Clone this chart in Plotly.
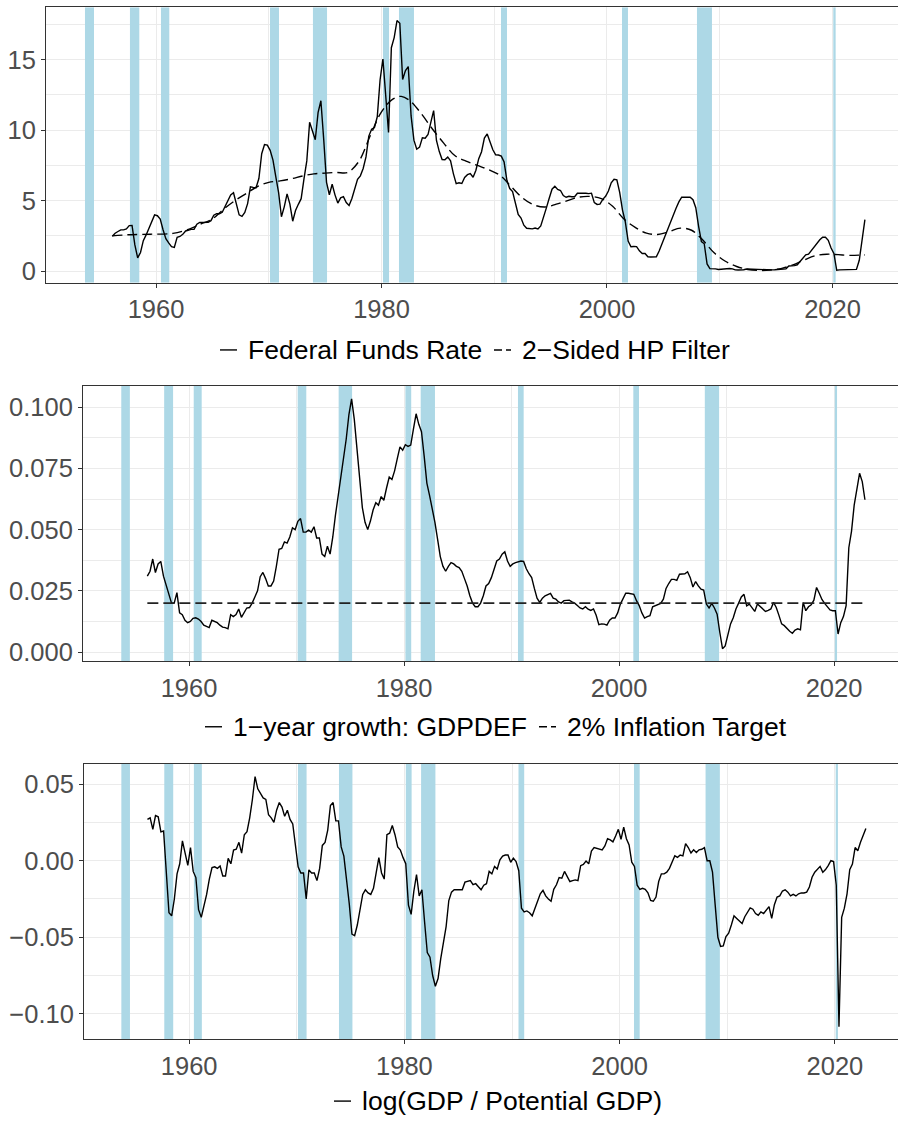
import plotly.graph_objects as go

# ---------------------------------------------------------------------------
# Quarterly series, 1956Q1 - 2022Q4 (one row per year, four quarters per row)
# ---------------------------------------------------------------------------
FIRST_YEAR = 1956
LAST_YEAR = 2022

fed_funds = [
    2.48, 2.69, 2.81, 2.93,    # 1956
    2.93, 3.00, 3.23, 3.24,    # 1957
    1.86, 0.94, 1.32, 2.16,    # 1958
    2.57, 3.08, 3.58, 3.99,    # 1959
    3.93, 3.70, 2.94, 2.30,    # 1960
    2.00, 1.73, 1.68, 2.40,    # 1961
    2.46, 2.61, 2.85, 2.92,    # 1962
    2.96, 2.96, 3.33, 3.45,    # 1963
    3.46, 3.49, 3.46, 3.58,    # 1964
    3.97, 4.08, 4.07, 4.17,    # 1965
    4.56, 4.91, 5.41, 5.56,    # 1966
    4.82, 3.99, 3.89, 4.17,    # 1967
    4.79, 5.98, 5.94, 5.92,    # 1968
    6.57, 8.33, 8.98, 8.94,    # 1969
    8.57, 7.88, 6.70, 5.57,    # 1970
    3.86, 4.56, 5.48, 4.75,    # 1971
    3.54, 4.30, 4.74, 5.14,    # 1972
    6.54, 7.82, 10.56, 10.00,  # 1973
    9.32, 11.25, 12.09, 9.35,  # 1974
    6.30, 5.42, 6.16, 5.41,    # 1975
    4.83, 5.20, 5.28, 4.87,    # 1976
    4.66, 5.16, 5.82, 6.51,    # 1977
    6.76, 7.28, 8.10, 9.58,    # 1978
    10.07, 10.18, 10.95, 13.58,  # 1979
    15.05, 12.69, 9.84, 15.85,   # 1980
    16.57, 17.78, 17.58, 13.59,  # 1981
    14.23, 14.51, 11.01, 9.29,   # 1982
    8.65, 8.80, 9.46, 9.43,    # 1983
    9.69, 10.56, 11.39, 9.27,  # 1984
    8.48, 7.92, 7.90, 8.10,    # 1985
    7.83, 6.92, 6.21, 6.27,    # 1986
    6.22, 6.65, 6.84, 6.92,    # 1987
    6.66, 7.16, 7.98, 8.47,    # 1988
    9.44, 9.73, 9.08, 8.61,    # 1989
    8.25, 8.24, 8.16, 7.74,    # 1990
    6.43, 5.86, 5.64, 4.82,    # 1991
    4.02, 3.77, 3.26, 3.04,    # 1992
    3.04, 3.00, 3.06, 2.99,    # 1993
    3.21, 3.94, 4.49, 5.17,    # 1994
    5.81, 6.02, 5.80, 5.72,    # 1995
    5.36, 5.24, 5.31, 5.28,    # 1996
    5.28, 5.52, 5.53, 5.51,    # 1997
    5.52, 5.50, 5.53, 4.86,    # 1998
    4.73, 4.75, 5.09, 5.31,    # 1999
    5.68, 6.27, 6.52, 6.47,    # 2000
    5.59, 4.33, 3.50, 2.13,    # 2001
    1.73, 1.75, 1.74, 1.44,    # 2002
    1.25, 1.25, 1.02, 1.00,    # 2003
    1.00, 1.01, 1.43, 1.95,    # 2004
    2.47, 2.94, 3.46, 3.98,    # 2005
    4.46, 4.91, 5.25, 5.24,    # 2006
    5.26, 5.25, 5.07, 4.50,    # 2007
    3.18, 2.09, 1.94, 0.51,    # 2008
    0.18, 0.18, 0.16, 0.12,    # 2009
    0.13, 0.19, 0.19, 0.19,    # 2010
    0.16, 0.09, 0.08, 0.07,    # 2011
    0.10, 0.15, 0.14, 0.16,    # 2012
    0.14, 0.12, 0.08, 0.09,    # 2013
    0.07, 0.09, 0.09, 0.10,    # 2014
    0.11, 0.12, 0.13, 0.16,    # 2015
    0.36, 0.37, 0.39, 0.45,    # 2016
    0.70, 0.95, 1.15, 1.20,    # 2017
    1.45, 1.74, 1.92, 2.22,    # 2018
    2.40, 2.40, 2.19, 1.64,    # 2019
    1.26, 0.06, 0.09, 0.09,    # 2020
    0.08, 0.07, 0.09, 0.08,    # 2021
    0.12, 0.77, 2.19, 3.65,    # 2022
]

deflator_growth = [
    0.0310, 0.0330, 0.0380, 0.0325,  # 1956
    0.0360, 0.0370, 0.0310, 0.0270,  # 1957
    0.0240, 0.0200, 0.0200, 0.0243,  # 1958
    0.0160, 0.0153, 0.0130, 0.0120,  # 1959
    0.0125, 0.0138, 0.0140, 0.0135,  # 1960
    0.0125, 0.0110, 0.0105, 0.0100,  # 1961
    0.0130, 0.0125, 0.0120, 0.0110,  # 1962
    0.0102, 0.0100, 0.0095, 0.0153,  # 1963
    0.0145, 0.0153, 0.0176, 0.0142,  # 1964
    0.0160, 0.0180, 0.0182, 0.0200,  # 1965
    0.0225, 0.0250, 0.0308, 0.0325,  # 1966
    0.0300, 0.0270, 0.0270, 0.0290,  # 1967
    0.0350, 0.0420, 0.0423, 0.0450,  # 1968
    0.0445, 0.0470, 0.0507, 0.0500,  # 1969
    0.0534, 0.0545, 0.0490, 0.0490,  # 1970
    0.0498, 0.0490, 0.0512, 0.0466,  # 1971
    0.0466, 0.0400, 0.0390, 0.0432,  # 1972
    0.0400, 0.0470, 0.0560, 0.0640,  # 1973
    0.0710, 0.0780, 0.0870, 0.0970,  # 1974
    0.1034, 0.0950, 0.0830, 0.0700,  # 1975
    0.0590, 0.0530, 0.0500, 0.0535,  # 1976
    0.0580, 0.0610, 0.0600, 0.0635,  # 1977
    0.0620, 0.0670, 0.0715, 0.0705,  # 1978
    0.0740, 0.0790, 0.0838, 0.0824,  # 1979
    0.0847, 0.0840, 0.0845, 0.0910,  # 1980
    0.0973, 0.0930, 0.0900, 0.0800,  # 1981
    0.0690, 0.0640, 0.0590, 0.0530,  # 1982
    0.0460, 0.0390, 0.0350, 0.0330,  # 1983
    0.0350, 0.0365, 0.0360, 0.0350,  # 1984
    0.0345, 0.0330, 0.0300, 0.0270,  # 1985
    0.0230, 0.0200, 0.0185, 0.0185,  # 1986
    0.0200, 0.0230, 0.0270, 0.0280,  # 1987
    0.0304, 0.0340, 0.0372, 0.0380,  # 1988
    0.0400, 0.0410, 0.0372, 0.0350,  # 1989
    0.0360, 0.0365, 0.0370, 0.0372,  # 1990
    0.0370, 0.0340, 0.0320, 0.0304,  # 1991
    0.0260, 0.0220, 0.0203, 0.0220,  # 1992
    0.0230, 0.0235, 0.0240, 0.0220,  # 1993
    0.0216, 0.0205, 0.0200, 0.0210,  # 1994
    0.0212, 0.0212, 0.0205, 0.0200,  # 1995
    0.0190, 0.0180, 0.0176, 0.0185,  # 1996
    0.0175, 0.0170, 0.0176, 0.0150,  # 1997
    0.0112, 0.0115, 0.0114, 0.0110,  # 1998
    0.0130, 0.0139, 0.0139, 0.0160,  # 1999
    0.0196, 0.0220, 0.0240, 0.0240,  # 2000
    0.0238, 0.0236, 0.0210, 0.0190,  # 2001
    0.0160, 0.0139, 0.0145, 0.0149,  # 2002
    0.0185, 0.0190, 0.0195, 0.0199,  # 2003
    0.0216, 0.0260, 0.0280, 0.0297,  # 2004
    0.0297, 0.0293, 0.0318, 0.0318,  # 2005
    0.0320, 0.0328, 0.0304, 0.0266,  # 2006
    0.0288, 0.0270, 0.0257, 0.0253,  # 2007
    0.0196, 0.0180, 0.0199, 0.0180,  # 2008
    0.0155, 0.0080, 0.0014, 0.0025,  # 2009
    0.0065, 0.0115, 0.0140, 0.0176,  # 2010
    0.0200, 0.0225, 0.0236, 0.0189,  # 2011
    0.0196, 0.0180, 0.0166, 0.0196,  # 2012
    0.0185, 0.0176, 0.0166, 0.0170,  # 2013
    0.0176, 0.0203, 0.0182, 0.0150,  # 2014
    0.0115, 0.0108, 0.0095, 0.0085,  # 2015
    0.0077, 0.0090, 0.0095, 0.0091,  # 2016
    0.0203, 0.0169, 0.0185, 0.0193,  # 2017
    0.0212, 0.0264, 0.0240, 0.0215,  # 2018
    0.0199, 0.0185, 0.0172, 0.0169,  # 2019
    0.0169, 0.0074, 0.0120, 0.0145,  # 2020
    0.0190, 0.0426, 0.0493, 0.0600,  # 2021
    0.0670, 0.0730, 0.0696, 0.0622,  # 2022
]

output_gap = [
    0.0270, 0.0280, 0.0205, 0.0295,    # 1956
    0.0287, 0.0188, 0.0194, -0.0080,   # 1957
    -0.0340, -0.0360, -0.0250, -0.0086,  # 1958
    -0.0020, 0.0130, 0.0040, -0.0030,  # 1959
    0.0086, -0.0070, -0.0110, -0.0320,  # 1960
    -0.0370, -0.0300, -0.0220, -0.0120,  # 1961
    -0.0045, -0.0040, -0.0050, -0.0035,  # 1962
    -0.0100, -0.0100, 0.0015, -0.0020,   # 1963
    0.0070, 0.0075, 0.0120, 0.0050,    # 1964
    0.0170, 0.0190, 0.0280, 0.0400,    # 1965
    0.0550, 0.0470, 0.0440, 0.0410,    # 1966
    0.0400, 0.0300, 0.0280, 0.0250,    # 1967
    0.0330, 0.0380, 0.0350, 0.0290,    # 1968
    0.0330, 0.0270, 0.0240, 0.0100,    # 1969
    -0.0040, -0.0080, -0.0080, -0.0250,  # 1970
    -0.0060, -0.0080, -0.0080, -0.0130,  # 1971
    -0.0050, 0.0100, 0.0120, 0.0200,   # 1972
    0.0360, 0.0380, 0.0260, 0.0260,    # 1973
    0.0090, 0.0030, -0.0120, -0.0280,  # 1974
    -0.0480, -0.0490, -0.0420, -0.0330,  # 1975
    -0.0220, -0.0190, -0.0210, -0.0220,  # 1976
    -0.0180, -0.0080, 0.0020, -0.0080,   # 1977
    -0.0120, 0.0170, 0.0180, 0.0230,   # 1978
    0.0170, 0.0090, 0.0070, 0.0020,    # 1979
    -0.0020, -0.0290, -0.0350, -0.0200,  # 1980
    -0.0090, -0.0230, -0.0190, -0.0400,  # 1981
    -0.0600, -0.0630, -0.0750, -0.0820,  # 1982
    -0.0770, -0.0640, -0.0540, -0.0430,  # 1983
    -0.0260, -0.0205, -0.0190, -0.0190,  # 1984
    -0.0190, -0.0190, -0.0140, -0.0134,  # 1985
    -0.0130, -0.0157, -0.0150, -0.0170,  # 1986
    -0.0190, -0.0160, -0.0150, -0.0070,  # 1987
    -0.0086, -0.0037, -0.0054, 0.0006,   # 1988
    0.0030, 0.0037, 0.0037, -0.0010,   # 1989
    0.0017, -0.0006, -0.0065, -0.0310,   # 1990
    -0.0334, -0.0328, -0.0340, -0.0360,  # 1991
    -0.0310, -0.0265, -0.0216, -0.0194,  # 1992
    -0.0230, -0.0250, -0.0265, -0.0187,  # 1993
    -0.0157, -0.0110, -0.0114, -0.0070,  # 1994
    -0.0100, -0.0136, -0.0130, -0.0125,  # 1995
    -0.0130, -0.0032, -0.0024, -0.0002,  # 1996
    -0.0020, 0.0063, 0.0086, 0.0082,   # 1997
    0.0075, 0.0071, 0.0097, 0.0144,    # 1998
    0.0136, 0.0123, 0.0162, 0.0205,    # 1999
    0.0140, 0.0220, 0.0144, 0.0103,    # 2000
    -0.0010, -0.0037, -0.0160, -0.0187,  # 2001
    -0.0180, -0.0187, -0.0210, -0.0260,  # 2002
    -0.0265, -0.0237, -0.0136, -0.0086,  # 2003
    -0.0086, -0.0075, -0.0050, -0.0010,  # 2004
    0.0032, 0.0022, 0.0037, 0.0032,    # 2005
    0.0112, 0.0086, 0.0050, 0.0071,    # 2006
    0.0054, 0.0071, 0.0075, 0.0086,    # 2007
    0.0000, 0.0000, -0.0075, -0.0290,  # 2008
    -0.0500, -0.0560, -0.0556, -0.0496,  # 2009
    -0.0474, -0.0420, -0.0360, -0.0377,  # 2010
    -0.0394, -0.0410, -0.0366, -0.0334,  # 2011
    -0.0308, -0.0317, -0.0345, -0.0356,  # 2012
    -0.0334, -0.0345, -0.0323, -0.0300,  # 2013
    -0.0377, -0.0287, -0.0237, -0.0230,  # 2014
    -0.0198, -0.0190, -0.0205, -0.0230,  # 2015
    -0.0220, -0.0230, -0.0216, -0.0210,  # 2016
    -0.0211, -0.0205, -0.0172, -0.0108,  # 2017
    -0.0075, -0.0058, -0.0037, -0.0075,  # 2018
    -0.0058, -0.0032, 0.0000, -0.0006,   # 2019
    -0.0160, -0.1084, -0.0370, -0.0310,  # 2020
    -0.0216, -0.0058, -0.0022, 0.0086,   # 2021
    0.0065, 0.0120, 0.0166, 0.0210,    # 2022
]

# Two-sided HP trend of the funds rate, sampled along the sample period
hp_time = [1956.125, 1957.5, 1959.5, 1961.5, 1963.0, 1964.0, 1965.0, 1966.0,
           1967.0, 1968.0, 1969.0, 1970.0, 1971.0, 1972.0, 1973.0, 1974.0,
           1975.0, 1976.0, 1977.0, 1978.0, 1979.0, 1980.0, 1981.0, 1981.75,
           1982.5, 1983.5, 1984.5, 1985.5, 1986.5, 1987.5, 1988.5, 1989.5,
           1990.5, 1991.5, 1992.5, 1993.5, 1994.5, 1995.5, 1996.5, 1997.5,
           1998.5, 1999.5, 2000.5, 2001.5, 2002.5, 2003.5, 2004.5, 2005.5,
           2006.5, 2007.5, 2008.5, 2009.5, 2010.5, 2011.5, 2012.5, 2013.5,
           2014.5, 2015.5, 2016.5, 2017.5, 2018.5, 2019.5, 2020.5, 2021.5,
           2022.875]
hp_trend = [2.50, 2.58, 2.62, 2.68, 3.00, 3.35, 3.70, 4.40,
            5.00, 5.50, 6.00, 6.30, 6.40, 6.55, 6.75, 6.90,
            6.95, 7.00, 7.00, 7.80, 9.60, 11.30, 12.20, 12.40,
            12.10, 11.20, 10.10, 9.10, 8.20, 7.80, 7.50, 7.20,
            6.80, 6.00, 5.20, 4.70, 4.55, 4.75, 5.00, 5.25,
            5.30, 5.15, 4.60, 3.70, 3.10, 2.70, 2.60, 2.80,
            3.05, 2.90, 2.20, 1.30, 0.70, 0.33, 0.12, 0.05,
            0.08, 0.20, 0.45, 0.80, 1.10, 1.20, 1.17, 1.12,
            1.15]

inflation_target = 0.02

# NBER recession spans (decimal years)
recession_start = [1953.70, 1957.69, 1960.44, 1970.11, 1973.92, 1980.13,
                   1981.55, 1990.60, 2001.33, 2007.98, 2020.07]
recession_end = [1954.50, 1958.52, 1961.18, 1970.91, 1975.17, 1980.67,
                 1982.88, 1991.13, 2001.86, 2009.31, 2020.28]

# Axis ticks
x_ticks = [1960, 1980, 2000, 2020]
x_minor = [1970, 1990, 2010]
y1_ticks = [0, 5, 10, 15]
y1_labels = ["0", "5", "10", "15"]
y1_minor = [2.5, 7.5, 12.5, 17.5]
y2_ticks = [0.0, 0.025, 0.05, 0.075, 0.1]
y2_labels = ["0.000", "0.025", "0.050", "0.075", "0.100"]
y2_minor = [0.0125, 0.0375, 0.0625, 0.0875]
y3_ticks = [-0.10, -0.05, 0.0, 0.05]
y3_labels = ["\u22120.10", "\u22120.05", "0.00", "0.05"]
y3_minor = [-0.075, -0.025, 0.025]

# Legend entries per panel: (label, dash)
legend1 = [("Federal Funds Rate", "solid"), ("2\u2212Sided HP Filter", "dash")]
legend2 = [("1\u2212year growth: GDPDEF", "solid"), ("2% Inflation Target", "dash")]
legend3 = [("log(GDP / Potential GDP)", "solid")]

# ---------------------------------------------------------------------------
W, H = 898, 1127
FONT = "Liberation Sans, Arial, Helvetica, sans-serif"
GRID = "#EBEBEB"
AXIS = "#333333"
TICK_COLOR = "#4D4D4D"
RECESSION = "#ADD8E6"

quarter_time = [y + (q + 0.5) / 4 for y in range(FIRST_YEAR, LAST_YEAR + 1)
                for q in range(4)]
assert len(quarter_time) == len(fed_funds) == len(deflator_growth) == len(output_gap)


def px_x(p):
    return p / W


def px_y(p):
    return 1 - p / H


# panel boxes in pixels (left, top, bottom) and axis ranges
panels = [
    dict(left=46, top=7.3, bottom=284, xr=[1950.244, 2025.81], yr=[-0.824, 18.72]),
    dict(left=83, top=387.3, bottom=664, xr=[1950.14, 2025.95], yr=[-0.00366, 0.10882]),
    dict(left=84, top=767.3, bottom=1044, xr=[1950.23, 2025.86], yr=[-0.1167, 0.06325]),
]
y_ticks = [(y1_ticks, y1_labels, y1_minor), (y2_ticks, y2_labels, y2_minor),
           (y3_ticks, y3_labels, y3_minor)]

fig = go.Figure()
layout = dict(
    width=W, height=H, margin=dict(l=0, r=0, t=0, b=0),
    paper_bgcolor="white", plot_bgcolor="white", showlegend=False,
    font=dict(family=FONT),
)
shapes = []
annotations = []

for i, p in enumerate(panels):
    n = "" if i == 0 else str(i + 1)
    tickfont = dict(family=FONT, size=25.5, color=TICK_COLOR)
    layout["xaxis" + n] = dict(
        domain=[px_x(p["left"]), 1], range=p["xr"], anchor="y" + n,
        tickmode="array", tickvals=x_ticks, ticktext=[str(t) for t in x_ticks],
        showgrid=True, gridcolor=GRID, gridwidth=1.3,
        minor=dict(tickvals=x_minor, showgrid=True, gridcolor=GRID,
                   gridwidth=0.7, ticks=""),
        showline=True, mirror=True, linecolor=AXIS, linewidth=1,
        ticks="outside", ticklen=4, tickwidth=1, tickcolor=AXIS,
        tickfont=tickfont, zeroline=False, fixedrange=True,
    )
    tv, tt, mv = y_ticks[i]
    layout["yaxis" + n] = dict(
        domain=[px_y(p["bottom"]), px_y(p["top"])], range=p["yr"],
        anchor="x" + n, tickmode="array", tickvals=tv, ticktext=tt,
        showgrid=True, gridcolor=GRID, gridwidth=1.3,
        minor=dict(tickvals=mv, showgrid=True, gridcolor=GRID,
                   gridwidth=0.7, ticks=""),
        showline=True, mirror=False, linecolor=AXIS, linewidth=1,
        ticks="outside", ticklen=4, tickwidth=1, tickcolor=AXIS,
        tickfont=tickfont, zeroline=False, fixedrange=True,
    )
    # recession shading spanning the full panel height, under the series
    for s, e in zip(recession_start, recession_end):
        shapes.append(dict(type="rect", xref="x" + n, yref="y" + n,
                           x0=s, x1=e, y0=p["yr"][0], y1=p["yr"][1],
                           fillcolor=RECESSION, line=dict(width=0),
                           layer="between"))

# Panel 1: federal funds rate and its HP trend
fig.add_trace(go.Scatter(x=quarter_time, y=fed_funds, mode="lines",
                         line=dict(color="black", width=1.4),
                         xaxis="x", yaxis="y", name="Federal Funds Rate"))
fig.add_trace(go.Scatter(x=hp_time, y=hp_trend, mode="lines",
                         line=dict(color="black", width=1.4, dash="10px,5px",
                                   shape="spline", smoothing=1.0),
                         xaxis="x", yaxis="y", name="2\u2212Sided HP Filter"))

# Panel 2: GDP deflator inflation and the 2% target
fig.add_trace(go.Scatter(x=quarter_time, y=deflator_growth, mode="lines",
                         line=dict(color="black", width=1.4),
                         xaxis="x2", yaxis="y2", name="1\u2212year growth: GDPDEF"))
fig.add_trace(go.Scatter(x=[quarter_time[0], quarter_time[-1]],
                         y=[inflation_target, inflation_target], mode="lines",
                         line=dict(color="#222222", width=1.6, dash="11px,5px"),
                         xaxis="x2", yaxis="y2", name="2% Inflation Target"))

# Panel 3: output gap
fig.add_trace(go.Scatter(x=quarter_time, y=output_gap, mode="lines",
                         line=dict(color="black", width=1.4),
                         xaxis="x3", yaxis="y3", name="log(GDP / Potential GDP)"))


# Legends drawn under each panel: short line keys followed by labels
def add_legend(entries, key_lefts, y_center):
    for (label, dash), kx in zip(entries, key_lefts):
        shapes.append(dict(type="line", xref="paper", yref="paper",
                           x0=px_x(kx), x1=px_x(kx + 17),
                           y0=px_y(y_center), y1=px_y(y_center),
                           line=dict(color="black", width=1.4,
                                     dash="solid" if dash == "solid" else "8px,4px")))
        annotations.append(dict(text=label, xref="paper", yref="paper",
                                x=px_x(kx + 26), y=px_y(y_center),
                                xanchor="left", yanchor="middle",
                                showarrow=False,
                                font=dict(family=FONT, size=26.5, color="black")))


add_legend(legend1, [220, 494], 351.5)
add_legend(legend2, [205, 539], 730)
add_legend(legend3, [334], 1106)

layout["shapes"] = shapes
layout["annotations"] = annotations
fig.update_layout(**layout)

fig.write_html("out.html")
